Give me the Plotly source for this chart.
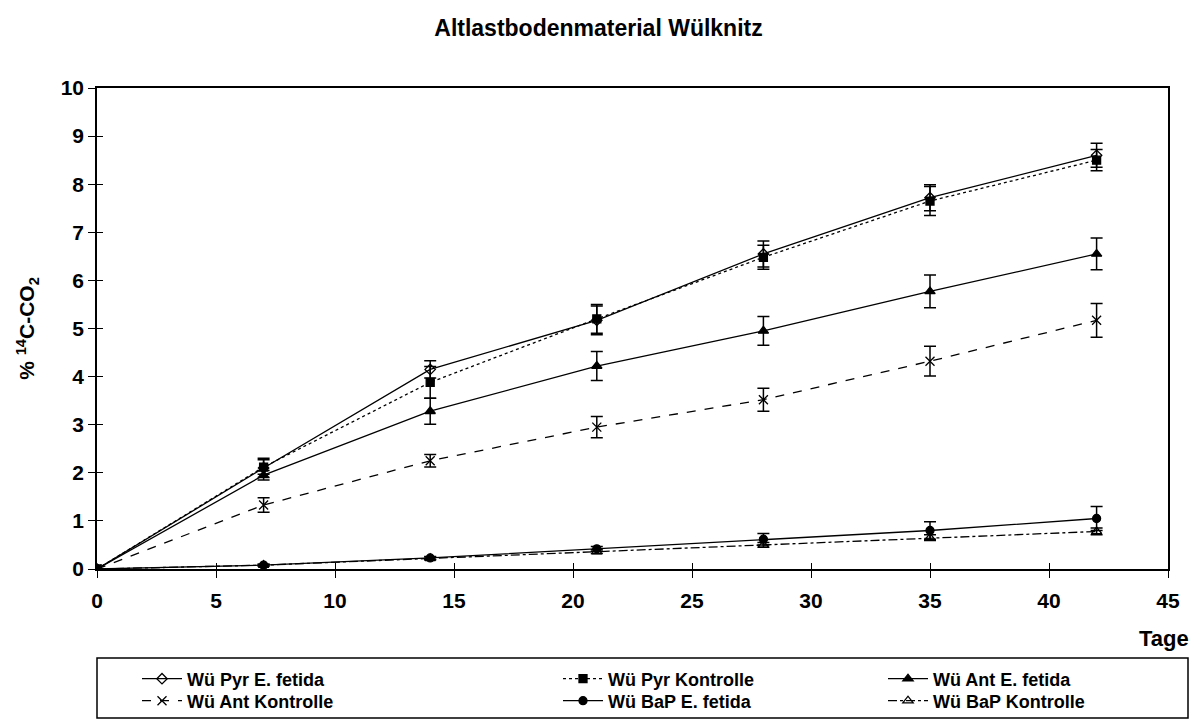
import plotly.graph_objects as go

days = [0, 7, 14, 21, 28, 35, 42]

pyr_ef = [0, 2.10, 4.15, 5.17, 6.55, 7.72, 8.60]
pyr_ef_err = [0, 0.20, 0.18, 0.30, 0.27, 0.27, 0.25]
pyr_k = [0, 2.12, 3.88, 5.20, 6.48, 7.65, 8.50]
pyr_k_err = [0, 0.15, 0.33, 0.30, 0.25, 0.30, 0.22]
ant_ef = [0, 1.95, 3.28, 4.22, 4.95, 5.77, 6.55]
ant_ef_err = [0, 0.10, 0.27, 0.30, 0.30, 0.34, 0.33]
ant_k = [0, 1.33, 2.25, 2.95, 3.52, 4.32, 5.17]
ant_k_err = [0, 0.15, 0.13, 0.22, 0.24, 0.31, 0.35]
bap_ef = [0, 0.08, 0.23, 0.42, 0.62, 0.80, 1.05]
bap_ef_err = [0, 0.02, 0.03, 0.05, 0.12, 0.18, 0.25]
bap_k = [0, 0.08, 0.22, 0.36, 0.50, 0.65, 0.78]
bap_k_err = [0, 0.02, 0.03, 0.04, 0.05, 0.06, 0.07]

names = ["Wü Pyr E. fetida", "Wü Pyr Kontrolle", "Wü Ant E. fetida",
         "Wü Ant Kontrolle", "Wü BaP E. fetida", "Wü BaP Kontrolle"]

FONT = "Arial, Liberation Sans, sans-serif"
BLACK = "#000000"

series = [
    (names[0], pyr_ef, pyr_ef_err, "solid", "diamond-open", 8),
    (names[1], pyr_k, pyr_k_err, "dot", "square", 8),
    (names[2], ant_ef, ant_ef_err, "solid", "triangle-up", 9),
    (names[3], ant_k, ant_k_err, "dash", "x-thin-open", 9),
    (names[4], bap_ef, bap_ef_err, "solid", "circle", 8),
    (names[5], bap_k, bap_k_err, "dashdot", "triangle-up-open", 9),
]

# plot area in pixels: left 97, right 1168, top 88, bottom 569
PL, PW, PT, PH = 97, 1071, 88, 481
def px(xp):
    return (xp - PL) / PW
def py(yp):
    return (PT + PH - yp) / PH

fig = go.Figure()
legend_keys = []
for i, (name, vals, err, dash, sym, size) in enumerate(series):
    key = "legend" if i == 0 else f"legend{i + 1}"
    legend_keys.append(key)
    fig.add_trace(go.Scatter(
        x=days, y=vals, name=name, mode="lines+markers",
        line=dict(color=BLACK, width=1.3, dash=dash),
        marker=dict(symbol=sym, size=size, color=BLACK,
                    line=dict(color=BLACK, width=1.3)),
        error_y=dict(type="data", array=err, symmetric=True,
                     color=BLACK, thickness=1.5, width=6),
        legend=key,
    ))

# helper trace for the inner half of the crossing ticks
fig.add_trace(go.Scatter(x=[0], y=[0], xaxis="x2", yaxis="y2", mode="markers",
                         marker=dict(opacity=0), showlegend=False, hoverinfo="skip"))

tickfont = dict(family=FONT, size=21, color=BLACK, weight="bold")

fig.update_layout(
    width=1197, height=720,
    margin=dict(l=97, r=29, t=88, b=151, autoexpand=False),
    paper_bgcolor="white", plot_bgcolor="white",
    font=dict(family=FONT, color=BLACK),
    title=dict(text="<b>Altlastbodenmaterial Wülknitz</b>", x=0.5, xanchor="center",
               y=1 - 28 / 720, yanchor="middle",
               font=dict(family=FONT, size=23, color=BLACK)),
    showlegend=True,
    xaxis=dict(range=[0, 45], dtick=5, tick0=0, showgrid=False, zeroline=False,
               showline=True, linecolor=BLACK, linewidth=1.5, mirror=True,
               ticks="outside", ticklen=7, tickwidth=1, tickcolor=BLACK,
               ticklabelstandoff=5, tickfont=tickfont),
    yaxis=dict(range=[0, 10], dtick=1, tick0=0, showgrid=False, zeroline=False,
               showline=True, linecolor=BLACK, linewidth=1.5, mirror=True,
               ticks="outside", ticklen=7, tickwidth=1, tickcolor=BLACK,
               tickfont=tickfont,
               title=dict(text="<b>% <sup>14</sup>C-CO<sub>2</sub></b>", standoff=20,
                          font=dict(family=FONT, size=21, color=BLACK))),
    xaxis2=dict(range=[0, 45], dtick=5, tick0=0, overlaying="x", anchor="y2",
                side="bottom", showgrid=False, zeroline=False, showline=False,
                ticks="inside", ticklen=6, tickwidth=1, tickcolor=BLACK,
                showticklabels=False),
    yaxis2=dict(range=[0, 10], dtick=1, tick0=0, overlaying="y", anchor="x2",
                side="left", showgrid=False, zeroline=False, showline=False,
                ticks="inside", ticklen=6, tickwidth=1, tickcolor=BLACK,
                showticklabels=False),
)

legfont = dict(family=FONT, size=18, color=BLACK, weight="bold")
col_left = [137, 558, 883]
row_mid = [679, 701]
for i, key in enumerate(legend_keys):
    r, c = divmod(i, 3)
    fig.update_layout({key: dict(x=px(col_left[c]), y=py(row_mid[r]), xanchor="left",
                                 yanchor="middle", orientation="v",
                                 bgcolor="rgba(0,0,0,0)", borderwidth=0,
                                 font=legfont, itemwidth=40)})

fig.add_shape(type="rect", xref="paper", yref="paper",
              x0=0, x1=px(1188), y0=py(658), y1=py(718),
              line=dict(color=BLACK, width=1.5), fillcolor="rgba(0,0,0,0)")

fig.add_annotation(text="<b>Tage</b>", xref="paper", yref="paper",
                   x=px(1191), y=py(638), xanchor="right", yanchor="middle",
                   showarrow=False, font=dict(family=FONT, size=22, color=BLACK))

fig.write_html("out.html", config={"displayModeBar": False},
               post_script="document.body.style.margin='0';document.body.style.padding='0';")
